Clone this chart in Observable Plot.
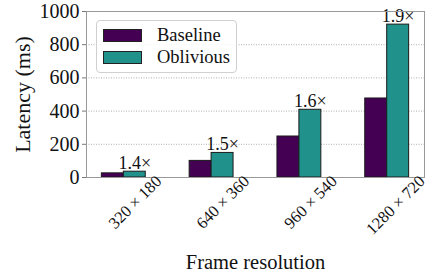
<!DOCTYPE html>
<html><head><meta charset="utf-8">
<script src="https://cdn.jsdelivr.net/npm/d3@7"></script>
<script src="https://cdn.jsdelivr.net/npm/@observablehq/plot@0.6"></script>
<style>
body{margin:0;background:#fff}
#wrap{position:relative;width:439px;height:273px}
#wrap svg, #wrap svg text, #wrap svg g{font-family:"Liberation Serif",serif !important}
.legend{position:absolute;left:96px;top:20px;width:141px;height:53px;border:1px solid #d0d0d0;border-radius:4px;background:rgba(255,255,255,0.85);font-family:"Liberation Serif",serif;font-size:18.5px;box-sizing:border-box;padding-top:3px}
.row{display:flex;align-items:center;height:22px}
.sw{width:39px;height:13px;margin-left:6px;border:1px solid #222;box-sizing:border-box}
.lab{margin-left:15px;color:#111}
</style>
</head><body>
<div id="wrap"></div>
<script>
const resolutions = ["320 × 180", "640 × 360", "960 × 540", "1280 × 720"];
const seriesNames = ["Baseline", "Oblivious"];
const baseline = [25, 100, 247, 476];
const oblivious = [35, 148, 408, 921];
const ratioLabels = ["1.4×", "1.5×", "1.6×", "1.9×"];
const colors = ["#440154", "#21918c"];
const yTicks = [0, 200, 400, 600, 800, 1000];

const barW = 0.25;
const rows = [];
resolutions.forEach((r, i) => {
  rows.push({i, res: r, series: seriesNames[0], value: baseline[i], x1: i - barW, x2: i});
  rows.push({i, res: r, series: seriesNames[1], value: oblivious[i], x1: i, x2: i + barW});
});
const ann = resolutions.map((r, i) => ({i: i + barW / 2, value: oblivious[i], text: ratioLabels[i]}));
const serif = "Liberation Serif";

const chart = Plot.plot({
  width: 439, height: 273,
  marginLeft: 86, marginRight: 15, marginTop: 11, marginBottom: 96,
  style: {fontFamily: serif, fontSize: "19.5px", color: "#111", background: "#fff"},
  x: {type: "linear", domain: [-0.425, 3.425]},
  y: {domain: [0, 1000]},
  color: {domain: seriesNames, range: colors},
  marks: [
    Plot.gridY([200, 400, 600, 800], {stroke: "#999", strokeOpacity: 1, strokeWidth: 0.8, strokeDasharray: "1,1.5"}),
    Plot.rectY(rows, {x1: "x1", x2: "x2", y1: 0, y2: "value", fill: "series", stroke: "#1a1a1a", strokeWidth: 1}),
    Plot.text(ann, {x: "i", y: "value", text: "text", lineAnchor: "bottom", dy: -3, fontSize: 18, fontFamily: serif, fill: "#111"}),
    Plot.frame({stroke: "#999", strokeWidth: 1}),
    Plot.axisY(yTicks, {tickSize: 4, tickPadding: 3, stroke: "#777", tickFormat: d => String(d), label: null, fontSize: 20, fontFamily: serif}),
    Plot.axisY([], {label: "Latency (ms)", labelAnchor: "center", labelArrow: "none", labelOffset: 72, tickSize: 0, fontSize: 22, fontFamily: serif}),
    Plot.text(resolutions, {x: (d, i) => i, frameAnchor: "bottom", text: d => d, rotate: -45, textAnchor: "end", lineAnchor: "middle", dx: 35, dy: 1, fontSize: 16.5, fontFamily: serif, fill: "#111"}),
    Plot.axisX([], {label: "Frame resolution", labelAnchor: "center", labelArrow: "none", labelOffset: 91, tickSize: 0, fontSize: 20.5, fontFamily: serif})
  ]
});
const wrap = document.getElementById("wrap");
wrap.appendChild(chart);

const leg = d3.select(wrap).append("div").attr("class", "legend");
seriesNames.forEach((s, k) => {
  const row = leg.append("div").attr("class", "row");
  row.append("div").attr("class", "sw").style("background", colors[k]);
  row.append("span").attr("class", "lab").text(s);
});
</script>
</body></html>
